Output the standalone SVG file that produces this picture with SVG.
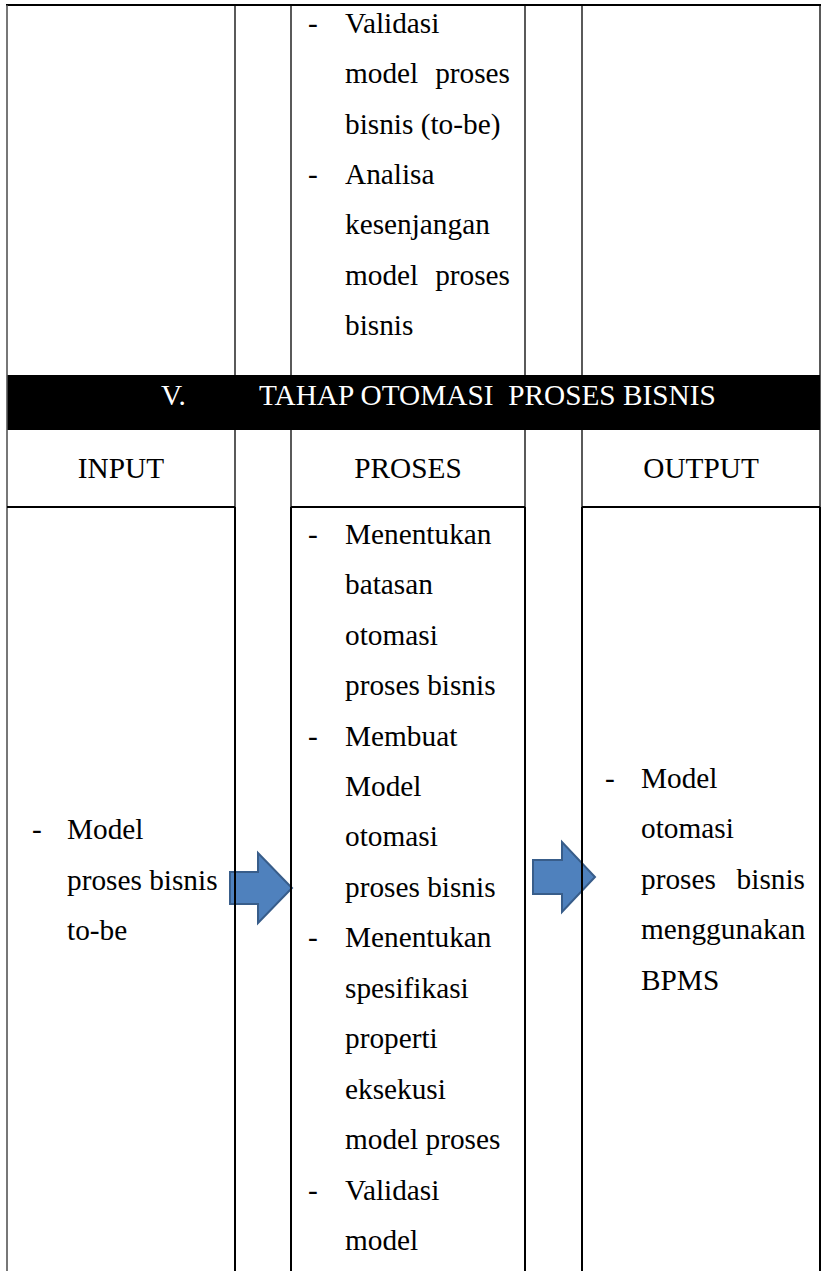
<svg xmlns="http://www.w3.org/2000/svg" width="822" height="1271" viewBox="0 0 822 1271" font-family="Liberation Serif, Tinos, Times New Roman, DejaVu Serif, serif">
  <defs>
    <style>
      text { font-family: "Liberation Serif", Tinos, "Times New Roman", "DejaVu Serif", serif; }
      .t { font-size: 29.3px; fill: #000; }
      .w { fill: #fff; }
      .c { text-anchor: middle; }
      .e { text-anchor: end; }
      .thin { stroke: #000; stroke-width: 1.3; fill: none; }
      .thick { stroke: #000; stroke-width: 2; fill: none; }
      .arrow { fill: #4F81BD; stroke: #385D8A; stroke-width: 2; stroke-linejoin: miter; }
    </style>
  </defs>

  <rect width="822" height="1271" fill="#fff"/>

  <!-- stage heading band -->
  <g id="stage-band">
    <rect x="7" y="375" width="813" height="55" fill="#000"/>
    <text class="t w" x="161" y="405">V.</text>
    <text class="t w" x="259" y="405" xml:space="preserve">TAHAP OTOMASI  PROSES BISNIS</text>
  </g>

  <!-- arrows between columns -->
  <g id="connectors">
    <path class="arrow" d="M230,872 H258 V853 L292,888 L258,923 V904 H230 Z"/>
    <path class="arrow" d="M533,860 H562 V842 L595,877 L562,912 V894 H533 Z"/>
  </g>

  <!-- table rules -->
  <g id="grid">
    <line x1="6" y1="5" x2="821" y2="5" stroke="#000" stroke-width="2"/>
    <line x1="7" y1="5" x2="7" y2="1271" stroke="#555" stroke-width="1.6"/>
    <line x1="820" y1="5" x2="820" y2="1271" class="thin"/>
    <!-- upper section and header row -->
    <line class="thin" x1="235" y1="5" x2="235" y2="375"/>
    <line class="thin" x1="291" y1="5" x2="291" y2="375"/>
    <line class="thin" x1="525" y1="5" x2="525" y2="375"/>
    <line class="thin" x1="582" y1="5" x2="582" y2="375"/>
    <line class="thin" x1="235" y1="430" x2="235" y2="507"/>
    <line class="thin" x1="291" y1="430" x2="291" y2="507"/>
    <line class="thin" x1="525" y1="430" x2="525" y2="507"/>
    <line class="thin" x1="582" y1="430" x2="582" y2="507"/>
    <!-- header row bottoms -->
    <line class="thick" x1="7" y1="507" x2="235" y2="507"/>
    <line class="thick" x1="291" y1="507" x2="525" y2="507"/>
    <line class="thick" x1="582" y1="507" x2="820" y2="507"/>
    <!-- body cells -->
    <line class="thick" x1="235" y1="507" x2="235" y2="1271"/>
    <line class="thick" x1="291" y1="507" x2="291" y2="1271"/>
    <line class="thick" x1="525" y1="507" x2="525" y2="1271"/>
    <line class="thick" x1="582" y1="507" x2="582" y2="1271"/>
    <line class="thick" x1="820" y1="507" x2="820" y2="1271"/>
  </g>

  <!-- carried-over process list of the previous stage -->
  <g id="prev-proses">
    <text class="t" x="308" y="33">-</text>
    <text class="t" x="345" y="33">Validasi</text>
    <text class="t" x="345" y="83">model</text>
    <text class="t e" x="510" y="83">proses</text>
    <text class="t" x="345" y="134">bisnis (to-be)</text>
    <text class="t" x="308" y="184">-</text>
    <text class="t" x="345" y="184">Analisa</text>
    <text class="t" x="345" y="234">kesenjangan</text>
    <text class="t" x="345" y="285">model</text>
    <text class="t e" x="510" y="285">proses</text>
    <text class="t" x="345" y="335">bisnis</text>
  </g>

  <!-- column headings -->
  <g id="head-input"><text class="t c" x="121" y="478">INPUT</text></g>
  <g id="head-proses"><text class="t c" x="408" y="478">PROSES</text></g>
  <g id="head-output"><text class="t c" x="701" y="478">OUTPUT</text></g>

  <!-- input cell -->
  <g id="input">
    <text class="t" x="32" y="839">-</text>
    <text class="t" x="67" y="839">Model</text>
    <text class="t" x="67" y="890">proses bisnis</text>
    <text class="t" x="67" y="940">to-be</text>
  </g>

  <!-- process cell -->
  <g id="proses">
    <text class="t" x="308" y="544">-</text>
    <text class="t" x="345" y="544">Menentukan</text>
    <text class="t" x="345" y="594">batasan</text>
    <text class="t" x="345" y="645">otomasi</text>
    <text class="t" x="345" y="695">proses bisnis</text>
    <text class="t" x="308" y="746">-</text>
    <text class="t" x="345" y="746">Membuat</text>
    <text class="t" x="345" y="796">Model</text>
    <text class="t" x="345" y="846">otomasi</text>
    <text class="t" x="345" y="897">proses bisnis</text>
    <text class="t" x="308" y="947">-</text>
    <text class="t" x="345" y="947">Menentukan</text>
    <text class="t" x="345" y="998">spesifikasi</text>
    <text class="t" x="345" y="1048">properti</text>
    <text class="t" x="345" y="1099">eksekusi</text>
    <text class="t" x="345" y="1149">model proses</text>
    <text class="t" x="308" y="1200">-</text>
    <text class="t" x="345" y="1200">Validasi</text>
    <text class="t" x="345" y="1250">model</text>
  </g>

  <!-- output cell -->
  <g id="output">
    <text class="t" x="605" y="788">-</text>
    <text class="t" x="641" y="788">Model</text>
    <text class="t" x="641" y="838">otomasi</text>
    <text class="t" x="641" y="889">proses</text>
    <text class="t e" x="805" y="889">bisnis</text>
    <text class="t" x="641" y="939">menggunakan</text>
    <text class="t" x="641" y="990">BPMS</text>
  </g>
</svg>
